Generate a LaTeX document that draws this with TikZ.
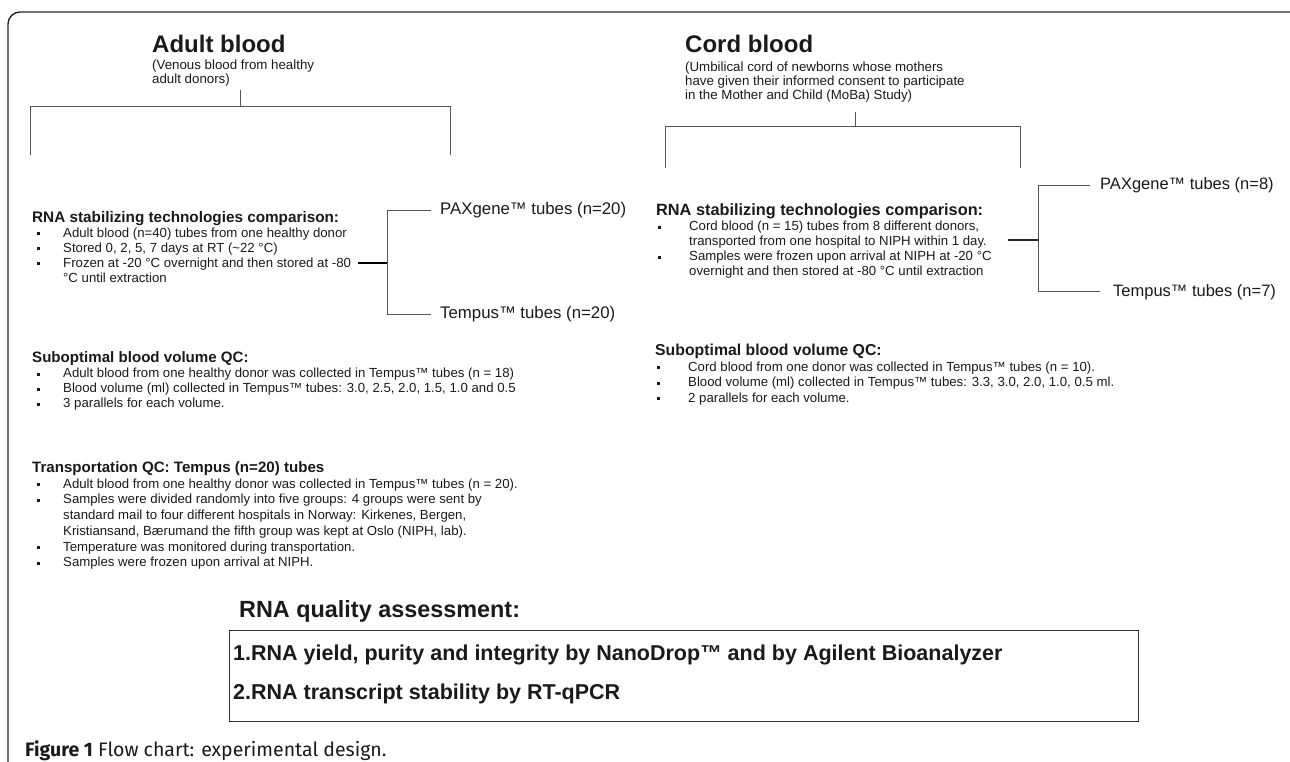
\documentclass[tikz,border=0pt]{standalone}
\usepackage{fontspec}
\setmainfont{Liberation Sans}
\newfontfamily\capfont{Fira Sans}
\newcommand{\bul}{\rule[0.25ex]{3.2pt}{3.2pt}}
\newlength{\bulw}
\newlength{\bulx}
\newcommand{\hd}[2]{\hbox{\fontsize{#1}{#1}\selectfont\bfseries #2}}
\newcommand{\bi}[1]{\hbox{\makebox[\bulw][l]{\hspace*{\bulx}\bul}#1}}
\newcommand{\ci}[1]{\hbox{\hspace*{\bulw}#1}}
\newcommand{\lines}[2]{\vtop{\baselineskip=#1\lineskiplimit=-100pt\lineskip=0pt #2}}
\definecolor{ln}{HTML}{555555}
\definecolor{tx}{HTML}{1A1A1A}
\tikzset{
  every node/.style={inner sep=0pt, text=tx},
  sec/.style={anchor=base west, font=\fontsize{13.2}{15}\selectfont},
  title/.style={anchor=base west, font=\fontsize{24}{28}\selectfont\bfseries},
  sub/.style={anchor=base west, font=\fontsize{13.3}{14}\selectfont},
  tube/.style={anchor=west, font=\fontsize{16.8}{18}\selectfont},
  wire/.style={draw=ln, line width=1pt},
  thick wire/.style={draw=black, line width=1.8pt},
  dark wire/.style={draw=black!85, line width=1.2pt},
  bigtext/.style={anchor=base west, font=\fontsize{21.5}{24}\selectfont\bfseries}
}
\begin{document}
\begin{tikzpicture}[x=1pt,y=-1pt]
\useasboundingbox (0,0) rectangle (1290,761);
% outer frame
\draw[draw=black!85, line width=1.4pt, rounded corners=12pt] (8,770) -- (8,12) -- (1302,12) -- (1302,60);

% ---------- Adult blood ----------
\node[title] (tA) at (152,52) {Adult blood};
\node[sub] (sA) at (152,69.7) {\lines{14pt}{\hbox{(Venous blood from healthy}\hbox{adult donors)}}};
\coordinate (aTop) at (240,90);
\coordinate (aMid) at (240,106);
\coordinate (aL) at (30,106);
\coordinate (aR) at (450,106);
\coordinate (aLd) at (30,155);
\coordinate (aRd) at (450,155);
\draw[wire] (aTop) -- (aMid);
\draw[wire] (aLd) -- (aL) -- (aR) -- (aRd);

\setlength{\bulw}{31pt}\setlength{\bulx}{5pt}
\node[sec] (stabA) at (32,222) {\lines{15pt}{%
\hd{15.3}{RNA stabilizing technologies comparison:}
\bi{Adult blood (n=40) tubes from one healthy donor}
\bi{Stored 0, 2, 5, 7 days at RT (\textasciitilde22 °C)}
\bi{Frozen at -20 °C overnight and then stored at -80}
\ci{°C until extraction}}};

\coordinate (aJ) at (358,263);
\coordinate (aV) at (387,263);
\coordinate (aVt) at (387,210);
\coordinate (aVb) at (387,314);
\node[tube] (paxA) at (440,210) {PAXgene™ tubes (n=20)};
\node[tube] (temA) at (440,314) {Tempus™ tubes (n=20)};
\coordinate (aPt) at (431,210);
\coordinate (aTt) at (431,314);
\draw[thick wire] (aJ) -- (aV);
\draw[wire] (aPt) -- (aVt) -- (aVb) -- (aTt);

\node[sec] (subA) at (32,362.5) {\lines{15pt}{%
\hd{15.1}{Suboptimal blood volume QC:}
\bi{Adult blood from one healthy donor was collected in Tempus™ tubes (n = 18)}
\bi{Blood volume (ml) collected in Tempus™ tubes: 3.0, 2.5, 2.0, 1.5, 1.0 and 0.5}
\bi{3 parallels for each volume.}}};

\node[sec] (trA) at (32,472.5) {\lines{15.7pt}{%
\hd{15.1}{Transportation QC: Tempus (n=20) tubes}
\bi{Adult blood from one healthy donor was collected in Tempus™ tubes (n = 20).}
\bi{Samples were divided randomly into five groups: 4 groups were sent by}
\ci{standard mail to four different hospitals in Norway: Kirkenes, Bergen,}
\ci{Kristiansand, Bærumand the fifth group was kept at Oslo (NIPH, lab).}
\bi{Temperature was monitored during transportation.}
\bi{Samples were frozen upon arrival at NIPH.}}};

% ---------- Cord blood ----------
\node[title] (tC) at (685,52) {Cord blood};
\node[sub] (sC) at (685,71.7) {\lines{14pt}{\hbox{(Umbilical cord of newborns whose mothers}\hbox{have given their informed consent to participate}\hbox{in the Mother and Child (MoBa) Study)}}};
\coordinate (cTop) at (855,112);
\coordinate (cMid) at (855,126);
\coordinate (cL) at (665,126);
\coordinate (cR) at (1020,126);
\coordinate (cLd) at (665,168);
\coordinate (cRd) at (1020,168);
\draw[wire] (cTop) -- (cMid);
\draw[wire] (cLd) -- (cL) -- (cR) -- (cRd);

\setlength{\bulw}{33pt}\setlength{\bulx}{2pt}
\node[sec] (stabC) at (656,215.5) {\lines{15pt}{%
\hd{16.3}{RNA stabilizing technologies comparison:}
\bi{Cord blood (n = 15) tubes from 8 different donors,}
\ci{transported from one hospital to NIPH within 1 day.}
\bi{Samples were frozen upon arrival at NIPH at -20 °C}
\ci{overnight and then stored at -80 °C until extraction}}};

\coordinate (cJ) at (1008,240);
\coordinate (cV) at (1038,240);
\coordinate (cVt) at (1038,185);
\coordinate (cVb) at (1038,291);
\node[tube, font=\fontsize{16.5}{18}\selectfont] (paxC) at (1100,185) {PAXgene™ tubes (n=8)};
\node[tube, font=\fontsize{16.5}{18}\selectfont] (temC) at (1113,292) {Tempus™ tubes (n=7)};
\coordinate (cPt) at (1090,185);
\coordinate (cTt) at (1100,291);
\draw[dark wire] (cJ) -- (cV);
\draw[wire] (cPt) -- (cVt) -- (cVb) -- (cTt);

\node[sec] (subC) at (655,355.5) {\lines{15.5pt}{%
\hd{15.8}{Suboptimal blood volume QC:}
\bi{Cord blood from one donor was collected in Tempus™ tubes (n = 10).}
\bi{Blood volume (ml) collected in Tempus™ tubes: 3.3, 3.0, 2.0, 1.0, 0.5 ml.}
\bi{2 parallels for each volume.}}};

% ---------- RNA quality ----------
\node[anchor=base west, font=\fontsize{23.4}{26}\selectfont\bfseries] (qa) at (239,617) {RNA quality assessment:};
\node[draw=black!80, line width=1.2pt, anchor=north west, minimum width=909pt, minimum height=91pt] (box) at (229,630) {};
\node[bigtext] (q1) at (233,660) {1.RNA yield, purity and integrity by NanoDrop™ and by Agilent Bioanalyzer};
\node[bigtext] (q2) at (233,699) {2.RNA transcript stability by RT-qPCR};

% caption
\node[anchor=base west, font=\fontsize{19.5}{22}\selectfont\capfont] (cap) at (25,756) {\textbf{Figure 1} Flow chart: experimental design.};
\end{tikzpicture}
\end{document}
